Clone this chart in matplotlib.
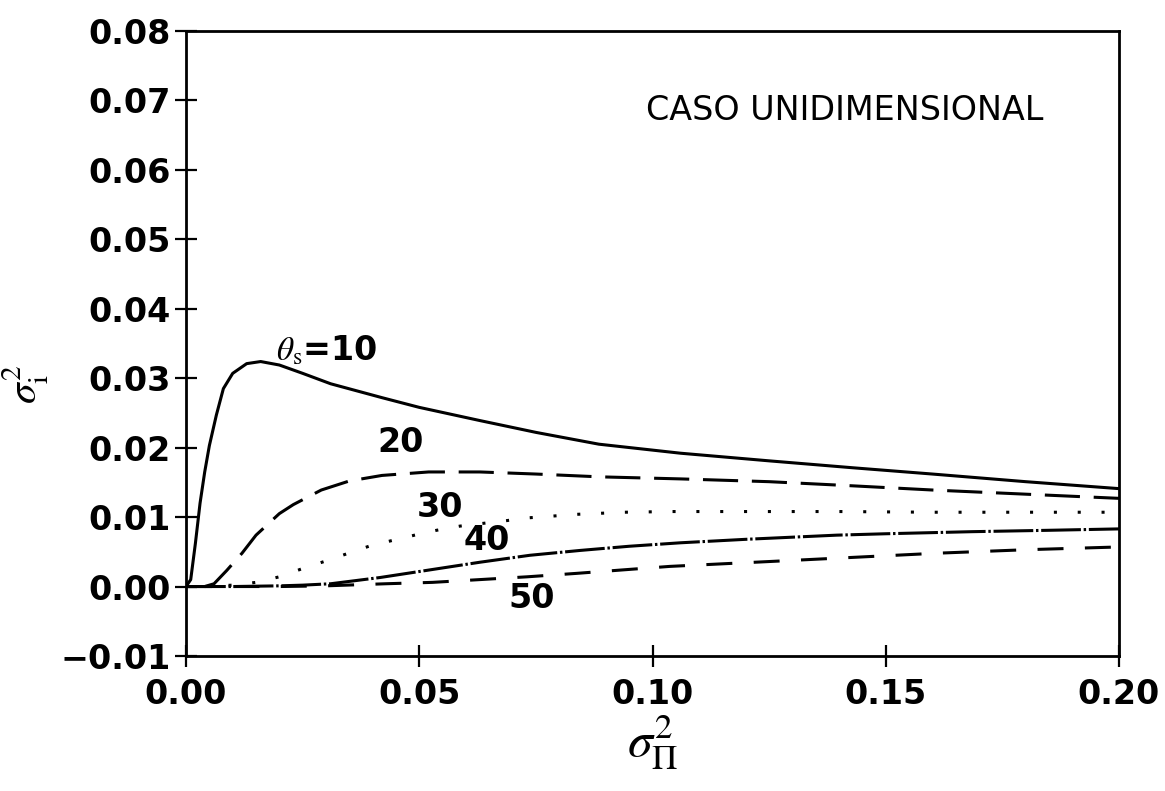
import matplotlib
matplotlib.use("Agg")
import matplotlib.pyplot as plt

plt.rcParams['font.family'] = ['DejaVu Sans']
plt.rcParams['mathtext.fontset'] = 'stix'

# curve theta_s = 10 (solid)
x10 = [0.0, 0.001, 0.002, 0.003, 0.004, 0.005, 0.0065, 0.008, 0.010, 0.013, 0.016,
       0.020, 0.025, 0.031, 0.042, 0.050, 0.063, 0.075, 0.0885, 0.106, 0.125,
       0.143, 0.160, 0.180, 0.200]
y10 = [0.0, 0.0010, 0.0062, 0.0120, 0.0165, 0.0203, 0.0247, 0.0285, 0.0307, 0.0321, 0.0324,
       0.0319, 0.0307, 0.0292, 0.0272, 0.0258, 0.0239, 0.0222, 0.0205, 0.0192, 0.0181,
       0.0171, 0.0162, 0.0151, 0.0141]

# theta_s = 20 (long dash)
x20 = [0.004, 0.006, 0.0087, 0.012, 0.015, 0.020, 0.023, 0.029, 0.035, 0.042, 0.052,
       0.063, 0.075, 0.0885, 0.106, 0.125, 0.143, 0.160, 0.180, 0.200]
y20 = [0.0, 0.0004, 0.0023, 0.0048, 0.0074, 0.0105, 0.0118, 0.0139, 0.0152, 0.0160, 0.0165,
       0.0165, 0.0162, 0.0158, 0.0155, 0.0151, 0.0145, 0.0139, 0.0133, 0.0127]

# theta_s = 30 (dotted)
x30 = [0.004, 0.010, 0.015, 0.020, 0.0246, 0.0296, 0.0344, 0.0392, 0.044, 0.049, 0.0537,
       0.0587, 0.0637, 0.0688, 0.0735, 0.0838, 0.094, 0.104, 0.120, 0.140, 0.160, 0.180, 0.200]
y30 = [0.0, 0.0002, 0.0006, 0.0014, 0.0025, 0.0036, 0.0047, 0.0058, 0.0066, 0.0074, 0.0081,
       0.0087, 0.0091, 0.0095, 0.0099, 0.0104, 0.0107, 0.0108, 0.0108, 0.0108, 0.0107, 0.0107, 0.0107]

# theta_s = 40 (dash-dot)
x40 = [0.0, 0.010, 0.020, 0.025, 0.031, 0.0416, 0.0523, 0.063, 0.0737, 0.0845, 0.095,
       0.106, 0.120, 0.1395, 0.150, 0.1685, 0.185, 0.200]
y40 = [0.0, 0.0, 0.0001, 0.0002, 0.0004, 0.0013, 0.0024, 0.0035, 0.0045, 0.0052, 0.0058,
       0.0063, 0.0068, 0.0074, 0.0076, 0.0079, 0.0081, 0.0083]

# theta_s = 50 (short dash)
x50 = [0.0, 0.020, 0.030, 0.0428, 0.0528, 0.063, 0.0731, 0.0838, 0.0937, 0.1037, 0.125,
       0.143, 0.161, 0.180, 0.200]
y50 = [0.0, 0.0, 0.0001, 0.0004, 0.0006, 0.0010, 0.0014, 0.0019, 0.0024, 0.0029, 0.0036,
       0.0042, 0.0048, 0.0053, 0.0057]

xticks = [0.00, 0.05, 0.10, 0.15, 0.20]
yticks = [-0.01, 0.00, 0.01, 0.02, 0.03, 0.04, 0.05, 0.06, 0.07, 0.08]

fig = plt.figure(figsize=(11.65, 7.91), dpi=100)
ax = fig.add_axes([0.1597, 0.1707, 0.8008, 0.7901])

lw = 2.2
ax.plot(x10, y10, color='black', lw=lw, solid_capstyle='butt')
ax.plot(x20, y20, color='black', lw=lw, linestyle=(0, (11.5, 4.5)))
ax.plot(x30, y30, color='black', lw=lw, linestyle=(0, (1, 6.8)))
ax.plot(x40, y40, color='black', lw=lw, linestyle=(0, (13, 0.9, 0.8, 0.9)))
ax.plot(x50, y50, color='black', lw=lw, linestyle=(0, (8.5, 7)))

ax.set_xlim(0, 0.20)
ax.set_ylim(-0.01, 0.08)
ax.set_xticks(xticks)
ax.set_yticks(yticks)
ax.set_xticklabels(['%.2f' % v for v in xticks])
ax.set_yticklabels(['%.2f' % v if v >= 0 else '\u22120.01' for v in yticks])

for s in ax.spines.values():
    s.set_linewidth(2.0)
ax.tick_params(direction='inout', length=16, width=1.6, labelsize=24, top=False, right=False)
ax.tick_params(axis='y', pad=3)
ax.tick_params(axis='x', pad=8)
for lab in ax.get_xticklabels() + ax.get_yticklabels():
    lab.set_fontweight('bold')

ax.set_ylabel(r'$\sigma_{\rm i}^{2}$', fontsize=30)
ax.yaxis.set_label_coords(-0.145, 0.435)
ax.set_xlabel(r'$\sigma_{\Pi}^{2}$', fontsize=36)
ax.xaxis.set_label_coords(0.5, -0.092)

txt = dict(fontsize=24, ha='center', va='center', color='black', fontweight='bold')
ax.text(0.0302, 0.0340, r'$\theta_{\rm s}$=10', **txt)
ax.text(0.0459, 0.0207, '20', **txt)
ax.text(0.0544, 0.0114, '30', **txt)
ax.text(0.0645, 0.0066, '40', **txt)
ax.text(0.0742, -0.0017, '50', **txt)
ax.text(0.1413, 0.0686, 'CASO UNIDIMENSIONAL', fontsize=24, ha='center', va='center')

fig.savefig('out.png', dpi=100)
